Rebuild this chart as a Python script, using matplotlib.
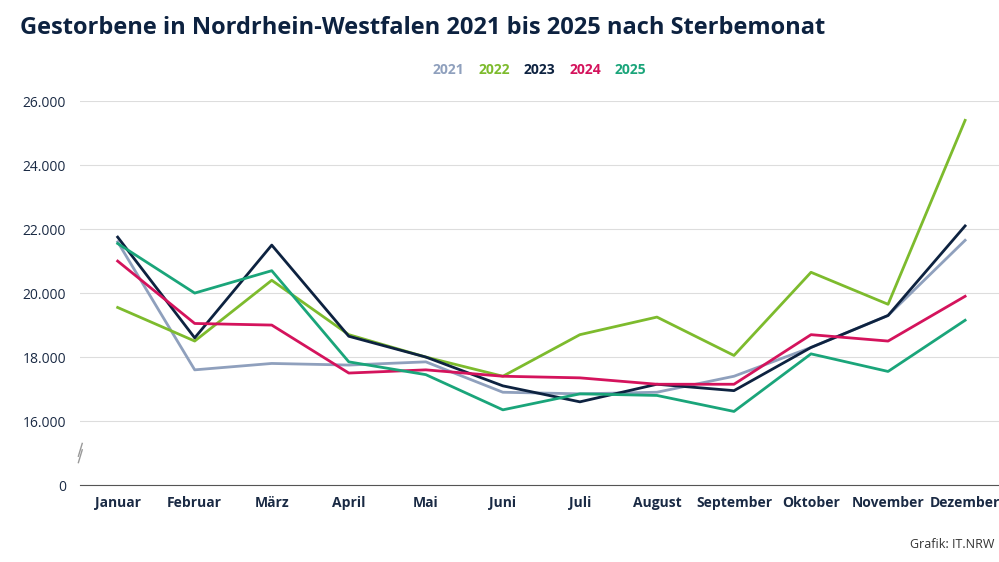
import matplotlib
matplotlib.use("Agg")
import matplotlib.pyplot as plt

months = ["Januar","Februar","März","April","Mai","Juni","Juli","August","September","Oktober","November","Dezember"]
y2021 = [21600,17600,17800,17750,17850,16900,16850,16900,17400,18300,19300,21650]
y2022 = [19550,18500,20400,18700,18000,17400,18700,19250,18050,20650,19650,25400]
y2023 = [21750,18600,21500,18650,18000,17100,16600,17150,16950,18300,19300,22100]
y2024 = [21000,19050,19000,17500,17600,17400,17350,17150,17150,18700,18500,19900]
y2025 = [21550,20000,20700,17850,17450,16350,16850,16800,16300,18100,17550,19150]
series = [("2021",y2021,"#8fa0bd"),("2022",y2022,"#7dbb2d"),("2023",y2023,"#0d2240"),
          ("2024",y2024,"#d4135c"),("2025",y2025,"#1aa57a")]
yticks = [14000,16000,18000,20000,22000,24000,26000]
ylabels = ["0","16.000","18.000","20.000","22.000","24.000","26.000"]

plt.rcParams['font.family'] = ['Open Sans','DejaVu Sans']
fig = plt.figure(figsize=(9.99,5.62), dpi=100)
ax = fig.add_axes([0.08,0.137,0.92,0.683])
x = list(range(12))
for name, v, c in series:
    ax.plot(x, v, color=c, lw=2, label=name)
ax.set_xlim(-0.49, 11.44)
ax.set_ylim(14000, 26000)
ax.set_yticks(yticks)
ax.set_yticklabels(ylabels, color="#1a2a44", fontsize=10)
ax.set_xticks(x)
ax.set_xticklabels(months, fontsize=10, fontweight="bold", color="#1a2a44")
ax.grid(axis="y", color="#dddddd", lw=0.8)
for s in ["top","right","left"]:
    ax.spines[s].set_visible(False)
ax.spines["bottom"].set_color("#555555")
ax.tick_params(axis="both", length=0, pad=8)
ax.tick_params(axis="y", pad=10)
ax.plot([-0.49-0.02,-0.49+0.03],[14700,15100], color="#999999", lw=1, clip_on=False)
ax.plot([-0.49-0.02,-0.49+0.03],[14900,15300], color="#999999", lw=1, clip_on=False)

fig.text(0.02,0.95,"Gestorbene in Nordrhein-Westfalen 2021 bis 2025 nach Sterbemonat",
         fontsize=17, fontweight="bold", color="#0d2240", va="center")
leg = ax.legend(loc="lower center", bbox_to_anchor=(0.5,1.03), ncol=5, frameon=False,
                handlelength=0, handletextpad=0, columnspacing=1.0,
                prop={'weight':'bold','size':10})
for t,(n,v,c) in zip(leg.get_texts(), series):
    t.set_color(c)
for h in leg.legend_handles:
    h.set_visible(False)
fig.text(0.995,0.025,"Grafik: IT.NRW", ha="right", fontsize=9, color="#333333")
fig.savefig("out.png", dpi=100, facecolor="white")
